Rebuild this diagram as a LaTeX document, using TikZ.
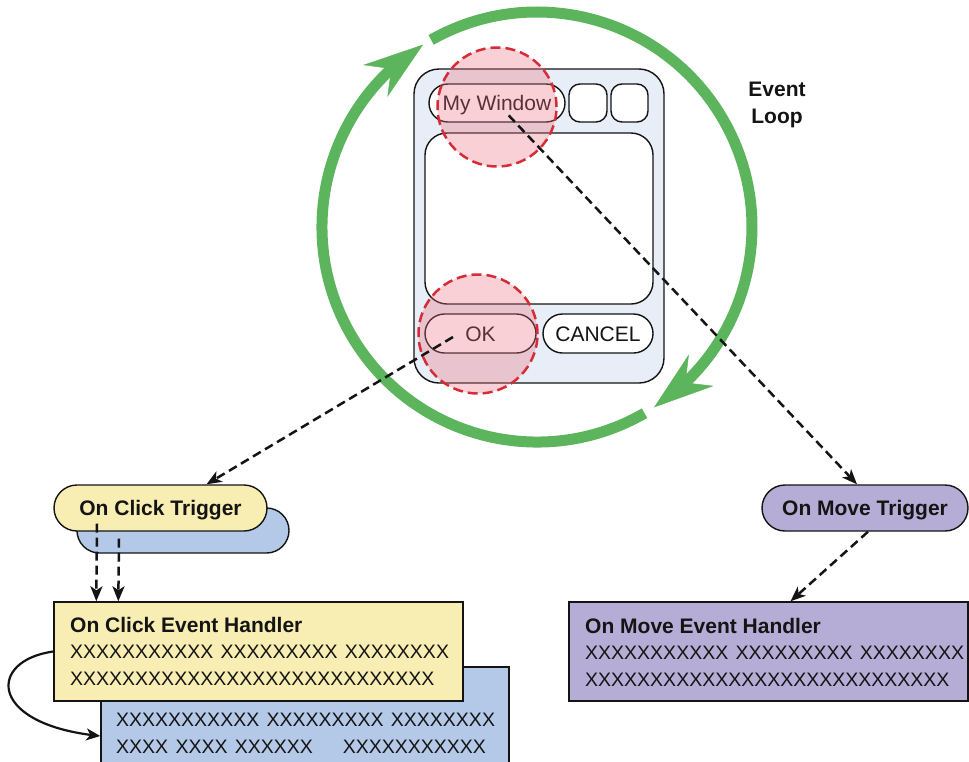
\documentclass[tikz,border=0pt]{standalone}
\usepackage{fontspec}
\setmainfont{Liberation Sans}
\newfontfamily\xfont[WordSpace=1.35]{Liberation Sans}
\usetikzlibrary{arrows.meta,bending,calc,shapes.misc}
\definecolor{loopgreen}{RGB}{92,180,92}
\definecolor{winfill}{RGB}{231,238,247}
\definecolor{hlred}{RGB}{214,44,56}
\definecolor{hlfill}{RGB}{236,110,125}
\definecolor{clickyellow}{RGB}{248,238,180}
\definecolor{clickblue}{RGB}{180,201,232}
\definecolor{movepurple}{RGB}{181,173,214}
\definecolor{ink}{RGB}{20,20,20}
\newcommand\hdFont{\rmfamily\bfseries\fontsize{21}{26.5}\selectfont}
\newcommand\uiFont{\rmfamily\fontsize{21}{24}\selectfont}
\newcommand\bodyFont{\xfont\fontsize{19.5}{26.5}\selectfont}
\begin{document}
\begin{tikzpicture}[x=1pt,y=-1pt,
  outline/.style={draw=ink,line width=1.4pt},
  pillnode/.style={outline,rounded rectangle,inner sep=0pt,text=ink},
  boxnode/.style={outline,rectangle,inner sep=0pt},
  loopline/.style={draw=loopgreen,line width=11pt,-{Stealth[length=60pt,width=40pt,inset=20pt,line width=0.5pt]}},
  hlcircle/.style={circle,draw=hlred,line width=2.5pt,dash pattern=on 10pt off 5pt,fill=hlfill,fill opacity=0.32,draw opacity=1,inner sep=0pt,minimum size=119pt},
  dasharrow/.style={draw=ink,line width=2.5pt,dash pattern=on 9pt off 5pt,-{Stealth[length=15pt,width=12pt,inset=4pt]}},
  curvearrow/.style={draw=ink,line width=2.2pt,-{Stealth[length=14pt,width=12pt,inset=4pt]}},
  txt/.style={inner sep=0pt,text=ink}
]
\useasboundingbox (0,0) rectangle (969,761);
\clip (0,0) rectangle (969,761);

% event loop
\draw[loopline] (431.1,39.9) arc[start angle=119.5,end angle=-57,radius=215pt];
\draw[loopline] (644.5,413.2) arc[start angle=-60,end angle=-238,radius=215pt];

% window
\node[boxnode,fill=winfill,rounded corners=25pt,minimum width=250pt,minimum height=314pt] (win) at (539,226) {};
\node[pillnode,fill=white,minimum width=136pt,minimum height=38pt,font=\uiFont,text height=15pt,text depth=0pt] (title) at (497,103) {My Window};
\node[boxnode,fill=white,rounded corners=11pt,minimum width=38pt,minimum height=38pt] (btnA) at (588,103) {};
\node[boxnode,fill=white,rounded corners=11pt,minimum width=37pt,minimum height=38pt] (btnB) at (629.5,103) {};
\node[boxnode,fill=white,rounded corners=22pt,minimum width=228pt,minimum height=171pt] (content) at (539,218.5) {};
\node[pillnode,fill=white,minimum width=111pt,minimum height=39pt,font=\uiFont,text height=15pt,text depth=0pt] (ok) at (480.5,333.5) {OK};
\node[pillnode,fill=white,minimum width=110pt,minimum height=39pt,font=\uiFont,text height=15pt,text depth=0pt] (cancel) at (598,333.5) {CANCEL};

% highlights
\node[hlcircle] (hlTitle) at (497,107) {};
\node[hlcircle] (hlOk) at (478,334) {};

\node[txt,font=\hdFont,align=center,anchor=north] (loopLabel) at (777,82) {Event\\Loop};

% triggers
\node[pillnode,fill=clickblue,minimum width=212pt,minimum height=45pt] (ctrigBack) at (183,530.5) {};
\node[pillnode,fill=clickyellow,minimum width=213pt,minimum height=46pt,font=\hdFont,text height=15pt,text depth=0pt] (ctrig) at (160.5,508) {On Click Trigger};
\node[pillnode,fill=movepurple,minimum width=206pt,minimum height=46pt,font=\hdFont,text height=15pt,text depth=0pt] (mtrig) at (865,508) {On Move Trigger};

% handlers
\node[boxnode,fill=clickblue,minimum width=408pt,minimum height=138pt] (bh) at (305,736) {};
\node[boxnode,fill=clickyellow,minimum width=409pt,minimum height=99pt] (yh) at (258.5,651.5) {};
\node[boxnode,fill=movepurple,minimum width=399pt,minimum height=99pt] (mh) at (768.5,651.5) {};

\node[txt,anchor=north west,align=left,font=\bodyFont] (yhText) at (70,617) {{\hdFont On Click Event Handler}\\XXXXXXXXXXX XXXXXXXXX XXXXXXXX\\XXXXXXXXXXXXXXXXXXXXXXXXXXXX};
\node[txt,anchor=north west,align=left,font=\bodyFont] (bhText) at (116,713) {XXXXXXXXXXX XXXXXXXXX XXXXXXXX\\XXXX XXXX XXXXXX\hspace{30pt}XXXXXXXXXXX};
\node[txt,anchor=north west,align=left,font=\bodyFont] (mhText) at (585,618) {{\hdFont On Move Event Handler}\\XXXXXXXXXXX XXXXXXXXX XXXXXXXX\\XXXXXXXXXXXXXXXXXXXXXXXXXXXX};

% connectors
\coordinate (okStart) at (453,337);
\draw[dasharrow,shorten <=17pt] (title.center) -- ($(mtrig.north)+(-8,0)$);
\draw[dasharrow] (okStart) -- ($(ctrig.north)+(46,0)$);
\draw[dasharrow] ($(mtrig.south)+(3,0)$) -- ($(mh.north)+(22,0)$);
\draw[dasharrow] ($(ctrig.south)+(-63.5,-8)$) -- ($(yh.north west)+(43,0)$);
\draw[dasharrow] ($(ctrigBack.south)+(-64,-15)$) -- ($(yh.north west)+(65,0)$);
\draw[curvearrow] (yh.west) .. controls +(-66,9) and +(-113,-11) .. (bh.west);
\end{tikzpicture}
\end{document}
